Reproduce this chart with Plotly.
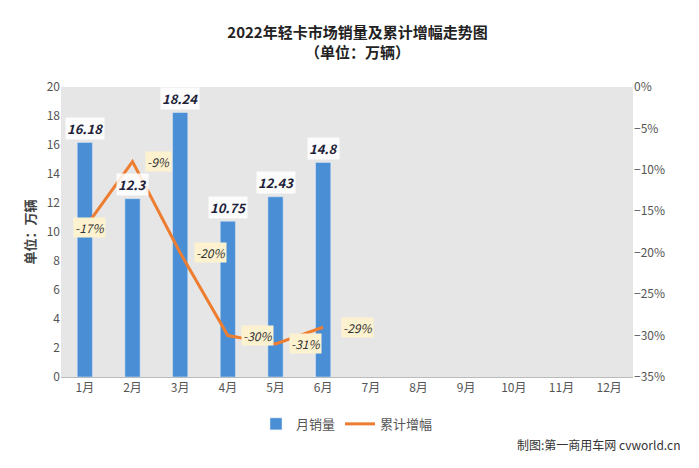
import plotly.graph_objects as go

months = ['1月', '2月', '3月', '4月', '5月', '6月', '7月', '8月', '9月', '10月', '11月', '12月']
sales = [16.18, 12.3, 18.24, 10.75, 12.43, 14.8]
growth = [-17, -9, -20, -30, -31, -29]
sales_labels = ['16.18', '12.3', '18.24', '10.75', '12.43', '14.8']
growth_shift = [5, 26, 30, 30, 30, 34]

fig = go.Figure()
fig.add_trace(go.Bar(x=months[:6], y=sales, name='月销量', marker_color='#4a8fd6',
                     width=0.32, yaxis='y'))
fig.add_trace(go.Scatter(x=months[:6], y=growth, name='累计增幅', mode='lines',
                         line=dict(color='#ed7d31', width=3), yaxis='y2'))

for m, v, t in zip(months, sales, sales_labels):
    fig.add_annotation(x=m, y=v, yref='y', text='<b><i>%s</i></b>' % t, showarrow=False,
                       yshift=14, bgcolor='rgba(255,255,255,0.85)',
                       font=dict(size=13, color='#1f1f3a'))
for m, g, s in zip(months, growth, growth_shift):
    fig.add_annotation(x=m, y=g, yref='y2', text='<i>%d%%</i>' % g, showarrow=False,
                       xshift=s, bgcolor='#fdf2d0', font=dict(size=12, color='#333'))

fig.update_layout(
    width=699, height=468,
    title=dict(text='<b>2022年轻卡市场销量及累计增幅走势图</b><br><b>（单位：万辆）</b>',
               x=0.5, y=0.935, font=dict(size=15, color='#222')),
    font=dict(family='Noto Sans CJK SC', color='#555', size=12),
    paper_bgcolor='white', plot_bgcolor='#e6e6e6',
    margin=dict(l=53, r=74, t=79, b=99),
    xaxis=dict(categoryorder='array', categoryarray=months, range=[-0.5, 11.5],
               showline=True, linecolor='#bbb', ticks=''),
    yaxis=dict(range=[0, 20], dtick=2, showgrid=False, zeroline=False, automargin=False,
               title=dict(text='<b>单位：万辆</b>', standoff=8, font=dict(size=13, color='#444'))),
    yaxis2=dict(range=[-35, 0], dtick=5, overlaying='y', side='right', ticksuffix='%',
                showgrid=False, zeroline=False),
    legend=dict(orientation='h', x=0.5, xanchor='center', y=-0.11, font=dict(size=13)),
    bargap=0.5,
)
fig.add_annotation(text='制图:第一商用车网 cvworld.cn', xref='paper', yref='paper', x=1.085, y=-0.27,
                   xanchor='right', showarrow=False, font=dict(size=12, color='#333'))
fig.write_html('out.html')
